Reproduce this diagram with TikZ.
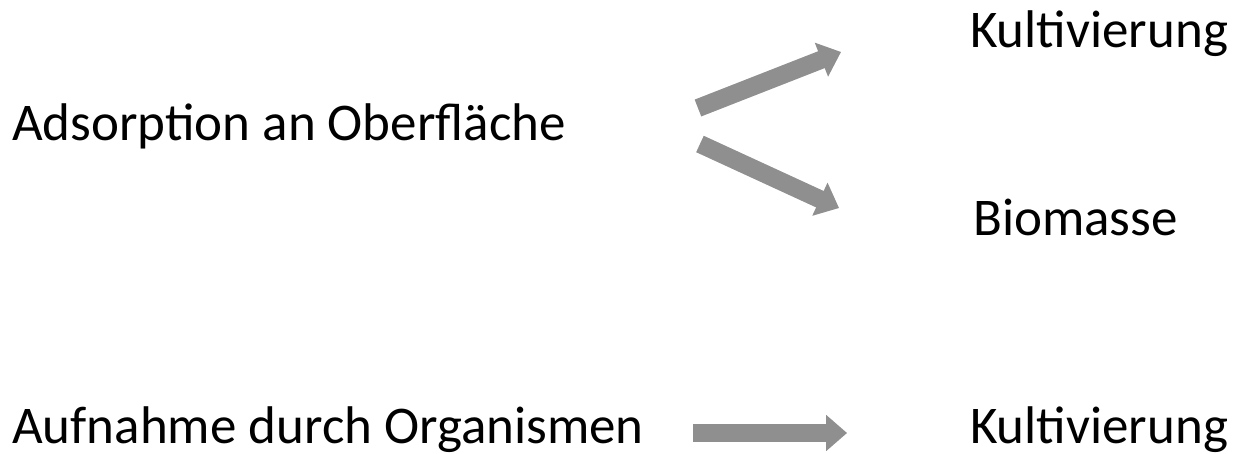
\documentclass[tikz,border=0pt]{standalone}
\usepackage{fontspec}
\setmainfont{Carlito}
\usetikzlibrary{arrows.meta}
\definecolor{arrowgray}{RGB}{143,143,143}
\tikzset{
  lbl/.style={anchor=base west, inner sep=0pt, font=\fontsize{53}{60}\selectfont},
  fatarrow/.style={draw=arrowgray, line width=18pt, -{Triangle[width=35pt,length=21pt]}},
  fatshadow/.style={draw=black, opacity=0.12, line width=18pt, -{Triangle[width=35pt,length=21pt]}}
}
\begin{document}
\begin{tikzpicture}[x=1pt,y=-1pt]
\useasboundingbox (0,0) rectangle (1237,453);
\node[lbl] (kult1) at (970,47) {Kultivierung};
\node[lbl] (ads) at (12,140) {Adsorption an Oberfläche};
\node[lbl] (bio) at (973,235) {Biomasse};
\node[lbl] (auf) at (12,443) {Aufnahme durch Organismen};
\node[lbl] (kult2) at (970,443) {Kultivierung};
\coordinate (a1s) at (698,108);
\coordinate (a1e) at (841,52);
\coordinate (a2s) at (700,144);
\coordinate (a2e) at (839,208);
\coordinate (a3s) at (693,433);
\coordinate (a3e) at (847,433);
\begin{scope}[shift={(1.5,3)}]
\draw[fatshadow] (a1s) -- (a1e);
\draw[fatshadow] (a2s) -- (a2e);
\draw[fatshadow] (a3s) -- (a3e);
\end{scope}
\draw[fatarrow] (a1s) -- (a1e);
\draw[fatarrow] (a2s) -- (a2e);
\draw[fatarrow] (a3s) -- (a3e);
\end{tikzpicture}
\end{document}
